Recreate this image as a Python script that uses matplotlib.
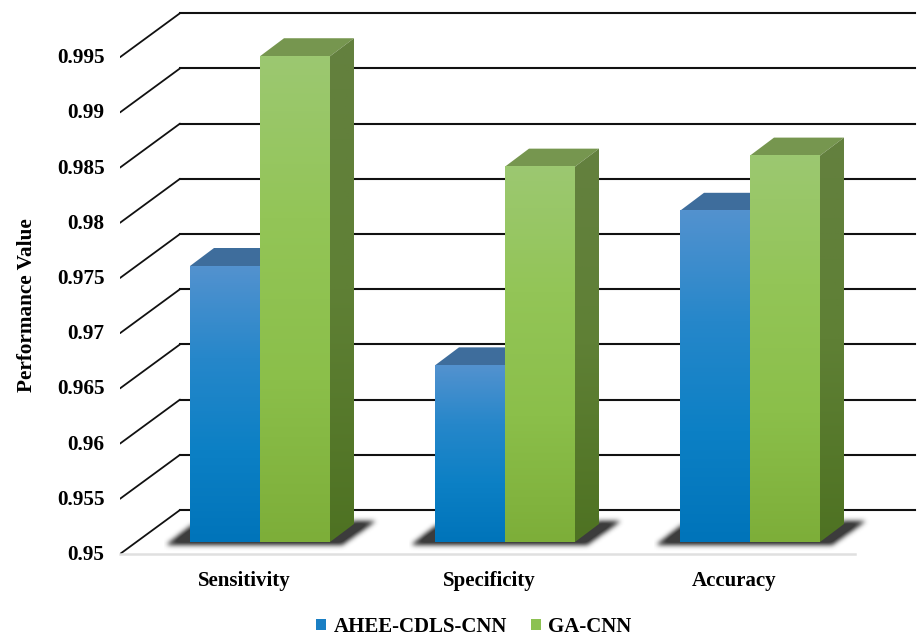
import numpy as np
import matplotlib
matplotlib.use("Agg")
import matplotlib.pyplot as plt
from matplotlib.colors import LinearSegmentedColormap
from matplotlib.patches import Patch, Polygon
from matplotlib.path import Path
from matplotlib.transforms import ScaledTranslation

categories = ["Sensitivity", "Specificity", "Accuracy"]
series_names = ["AHEE-CDLS-CNN", "GA-CNN"]
ahee_values = [0.975, 0.966, 0.98]
ga_values = [0.994, 0.984, 0.985]
y_ticks = [0.95, 0.955, 0.96, 0.965, 0.97, 0.975, 0.98, 0.985, 0.99, 0.995]
y_tick_labels = ["0.95", "0.955", "0.96", "0.965", "0.97", "0.975", "0.98", "0.985", "0.99", "0.995"]

plt.rcParams["font.family"] = ["Liberation Serif", "DejaVu Serif"]
plt.rcParams["font.weight"] = "bold"

W, H = 917, 636
LEFT, FLOOR = 120, 554      # pixel position of the front floor corner
GROUP_PX = 245              # pixels between groups
FIRST_PX = 260              # pixel x of the first group's centre
STEP_PX = 55.2              # pixels per 0.005
BAR_PX = 70
BASE_PX = 12                # bar plane sits this far above the front floor edge

# pixel sizes turned into data units
def dx(px):
    return px / GROUP_PX

def dy(px):
    return px / STEP_PX * 0.005

fig = plt.figure(figsize=(W / 100, H / 100), dpi=100)
ax = fig.add_axes([LEFT / W, (H - FLOOR) / H, (W - LEFT) / W, FLOOR / H])
xlim = ((LEFT - FIRST_PX) / GROUP_PX, (W - FIRST_PX) / GROUP_PX)
ylim = (0.95, 0.95 + dy(FLOOR))

for s in ax.spines.values():
    s.set_visible(False)

# back wall lines with the slanted part running to the front corner
wall_x, wall_y = dx(60), dy(44)
for t in y_ticks:
    ax.plot([xlim[0], xlim[0] + wall_x], [t, t + wall_y], color="#111111", lw=1.3, zorder=1, solid_capstyle="round")
    ax.plot([xlim[0] + wall_x, xlim[0] + dx(795)], [t + wall_y, t + wall_y], color="#111111", lw=1.5, zorder=1)
ax.plot([xlim[0], xlim[0] + dx(735)], [0.95, 0.95], color="#E0E0E0", lw=1.8, zorder=1, clip_on=False)

blue_cm = LinearSegmentedColormap.from_list("blue", ["#5392CF", "#2687CA", "#0C80C5", "#0074BA"])
green_cm = LinearSegmentedColormap.from_list("green", ["#9CC871", "#93C557", "#8BBF4A", "#7DAE39"])
green_side_cm = LinearSegmentedColormap.from_list("gside", ["#64803F", "#5F8035", "#4E7222"])
blue_top, green_top = "#3E6D9C", "#76964F"
ramp = np.linspace(0, 1, 256).reshape(-1, 1)


def floor_shadow(x_left):
    # soft dark patch under one pair of bars, built on a pixel grid
    w, h = 250, 50
    xs, ys = np.meshgrid(np.arange(w) + 0.5, np.arange(h) + 0.5)
    outline = Path([(3, 42), (28, 23), (212, 19), (178, 43), (3, 43)])
    mask = outline.contains_points(np.c_[xs.ravel(), ys.ravel()]).reshape(h, w).astype(float)
    kernel = np.exp(-np.linspace(-2, 2, 15) ** 2)
    kernel /= kernel.sum()
    mask = np.apply_along_axis(lambda r: np.convolve(r, kernel, mode="same"), 1, mask)
    mask = np.apply_along_axis(lambda c: np.convolve(c, kernel, mode="same"), 0, mask)
    rgba = np.zeros((h, w, 4))
    rgba[..., :3] = 0.15
    rgba[..., 3] = np.clip(mask * 1.15, 0, 1) * 0.9
    x0 = x_left - dx(26)
    base = 0.95 + dy(BASE_PX)
    ax.imshow(rgba, extent=[x0, x0 + dx(w), base - dy(10), base + dy(h - 10)],
              aspect="auto", zorder=2, interpolation="bilinear")


def bar_3d(x0, value, cmap, top_color, side_cmap=None, z=3):
    width = dx(BAR_PX)
    base = 0.95 + dy(BASE_PX)
    top = value + dy(BASE_PX)
    ddx, ddy = dx(24), dy(18)
    ax.add_patch(Polygon([(x0, top), (x0 + width, top), (x0 + width + ddx, top + ddy), (x0 + ddx, top + ddy)],
                         closed=True, fc=top_color, ec="none", zorder=z))
    if side_cmap is not None:
        side = Polygon([(x0 + width, base), (x0 + width + ddx, base + ddy), (x0 + width + ddx, top + ddy), (x0 + width, top)],
                       closed=True, fc="none", ec="none", zorder=z)
        ax.add_patch(side)
        im = ax.imshow(ramp, cmap=side_cmap, extent=[x0 + width, x0 + width + ddx, base, top + ddy],
                       aspect="auto", zorder=z)
        im.set_clip_path(side)
    ax.imshow(ramp, cmap=cmap, extent=[x0, x0 + width, base, top], aspect="auto", zorder=z + 0.5)


centers = np.arange(len(categories), dtype=float)
for i, c in enumerate(centers):
    floor_shadow(c - dx(BAR_PX))
    bar_3d(c - dx(BAR_PX), ahee_values[i], blue_cm, blue_top, z=3)
    bar_3d(c, ga_values[i], green_cm, green_top, side_cmap=green_side_cm, z=4)

ax.set_xlim(*xlim)
ax.set_ylim(*ylim)

ax.set_yticks(y_ticks)
ax.set_yticklabels(y_tick_labels, fontsize=15.3, fontweight="bold")
ax.set_xticks(centers - dx(16))
ax.set_xticklabels(categories, fontsize=15, fontweight="bold")
ax.tick_params(axis="y", length=0, pad=11)
ax.tick_params(axis="x", length=0, pad=12)
# nudge the value labels up a little
nudge = ScaledTranslation(0, 1.5 / 100, fig.dpi_scale_trans)
for lab in ax.get_yticklabels():
    lab.set_transform(lab.get_transform() + nudge)
ax.set_ylabel("Performance Value", fontsize=15.3, fontweight="bold")
ax.yaxis.set_label_coords((37 - LEFT) / (W - LEFT), (FLOOR - 305) / FLOOR)

handles = [Patch(fc="#1A7FC4", ec="none", label=series_names[0]),
           Patch(fc="#8CC152", ec="none", label=series_names[1])]
fig.legend(handles=handles, loc="center", bbox_to_anchor=(474 / W, (H - 627) / H), ncol=2, frameon=False,
           prop={"size": 15, "weight": "bold"}, handlelength=0.48, handleheight=0.48,
           handletextpad=0.38, columnspacing=1.1, borderpad=0)

fig.savefig("out.png", dpi=100, facecolor="white")
